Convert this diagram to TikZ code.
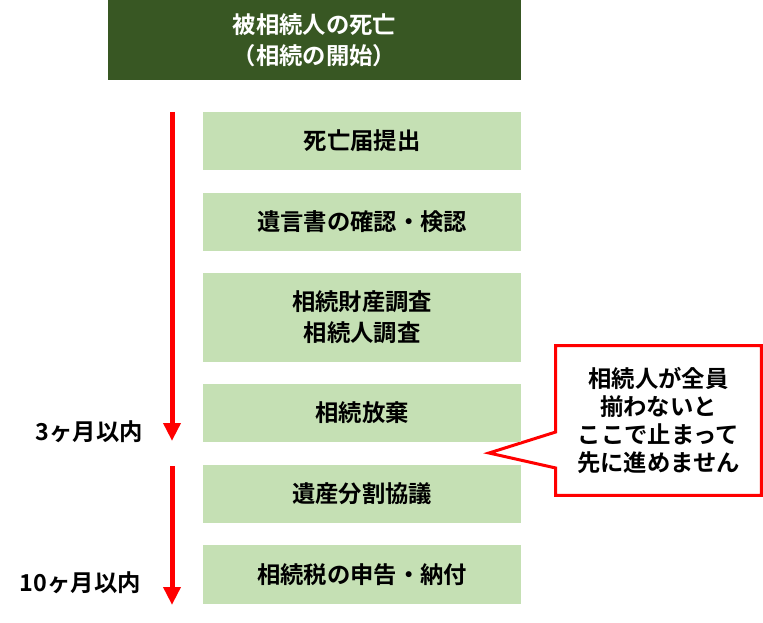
\documentclass[tikz,border=0pt]{standalone}
\usepackage{fontspec}
\setmainfont{Noto Sans CJK JP}[BoldFont={Noto Sans CJK JP Bold}]
\usetikzlibrary{arrows.meta,backgrounds}
\definecolor{topgreen}{HTML}{385723}
\definecolor{stepgreen}{HTML}{C5E0B4}
\definecolor{alertred}{HTML}{FF0000}

\begin{document}
\begin{tikzpicture}[x=0.75pt, y=-0.75pt,
    every node/.style={font=\bfseries\fontsize{17.5pt}{23pt}\selectfont, align=center, inner sep=0pt},
    head/.style={fill=topgreen, text=white, minimum width=309.75pt, minimum height=60pt},
    stepbox/.style={fill=stepgreen, minimum width=238.5pt, minimum height=43.5pt},
    period/.style={anchor=east},
    timeline/.style={draw=alertred, line width=3.75pt, -{Triangle[width=12.5pt,length=13.5pt]}},
    balloon/.style={draw=alertred, line width=2.25pt, fill=white, line join=miter}]

\useasboundingbox (0,0) rectangle (763,623);

\node[head] (death) at (314.5,40) {被相続人の死亡\\（相続の開始）};

\node[stepbox] (s1) at (362,141) {死亡届提出};
\node[stepbox] (s2) at (362,222) {遺言書の確認・検認};
\node[stepbox, minimum height=66.75pt] (s3) at (362,317.5) {相続財産調査\\相続人調査};
\node[stepbox] (s4) at (362,413) {相続放棄};
\node[stepbox] (s5) at (362,494) {遺産分割協議};
\node[stepbox, minimum height=44.25pt] (s6) at (362,574.5) {相続税の申告・納付};

% time limits
\coordinate (a1s) at (172,112);
\coordinate (a1e) at (172,441);
\coordinate (a2s) at (172,466);
\coordinate (a2e) at (172,605);
\draw[timeline] (a1s) -- (a1e);
\draw[timeline] (a2s) -- (a2e);
\node[period] (p1) at (143,432) {3ヶ月以内};
\node[period] (p2) at (141,583) {10ヶ月以内};

% callout
\node[minimum width=153.75pt, minimum height=111.75pt, font=\bfseries\fontsize{17.5pt}{21pt}\selectfont]
    (call) at (658.5,420.5) {相続人が全員\\揃わないと\\ここで止まって\\先に進めません};
\coordinate (pu) at (call.west |- 0,432);
\coordinate (pl) at (call.west |- 0,468);
\coordinate (tip) at (489,453);
\begin{pgfonlayer}{background}
\draw[balloon] (call.north west) -- (call.north east) -- (call.south east)
    -- (call.south west) -- (pl) -- (tip) -- (pu) -- cycle;
\end{pgfonlayer}

\end{tikzpicture}
\end{document}
